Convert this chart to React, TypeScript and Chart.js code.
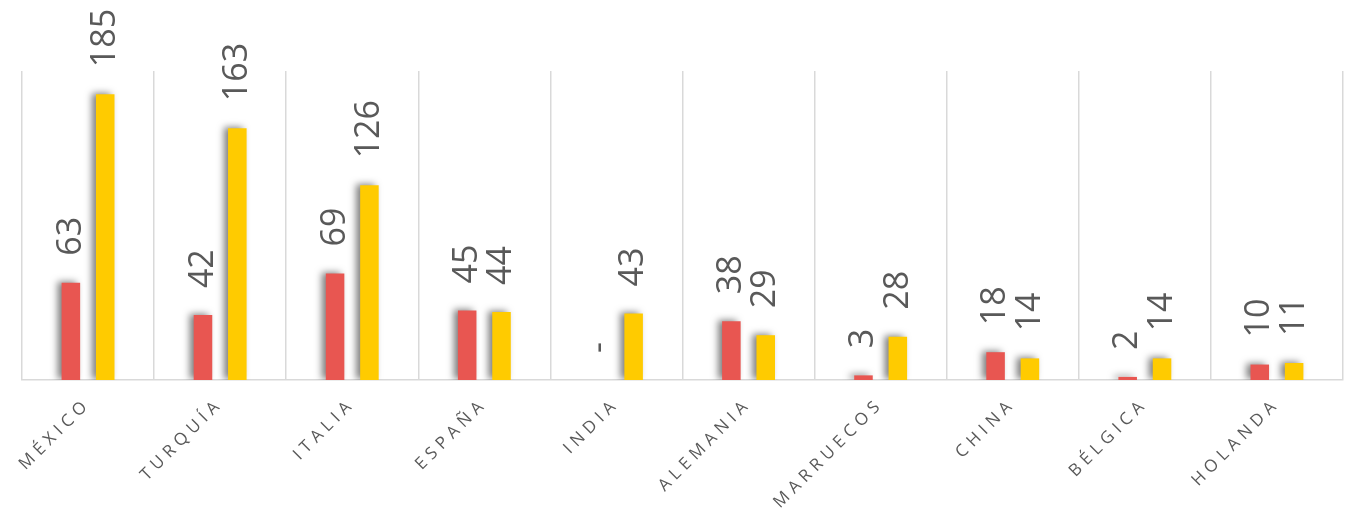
import { useEffect, useRef } from 'react';
import { Chart, registerables } from 'chart.js';

Chart.register(...registerables);

const categories = ['MÉXICO', 'TURQUÍA', 'ITALIA', 'ESPAÑA', 'INDIA', 'ALEMANIA', 'MARRUECOS', 'CHINA', 'BÉLGICA', 'HOLANDA'];
const seriesRed = [63, 42, 69, 45, 0, 38, 3, 18, 2, 10];
const seriesYellow = [185, 163, 126, 44, 43, 29, 28, 14, 14, 11];
const yMax = 200;

const RED = '#E85651';
const YELLOW = '#FFCB00';
const TEXT = '#595959';
const GRID = '#D9D9D9';

const labelPlugin = {
  id: 'shadowAndLabels',
  beforeDraw(chart: any) {
    chart.ctx.letterSpacing = '5px';
  },
  beforeDatasetsDraw(chart: any) {
    const ctx = chart.ctx;
    ctx.letterSpacing = '0px';
    ctx.save();
    ctx.shadowColor = 'rgba(0,0,0,0.5)';
    ctx.shadowBlur = 7;
    ctx.shadowOffsetX = -4;
    ctx.shadowOffsetY = -1;
  },
  afterDatasetsDraw(chart: any) {
    const ctx = chart.ctx;
    ctx.restore();
    ctx.save();
    ctx.letterSpacing = '0px';
    ctx.font = '34px "Open Sans"';
    ctx.fillStyle = TEXT;
    ctx.textAlign = 'left';
    ctx.textBaseline = 'middle';
    chart.data.datasets.forEach((ds: any, i: number) => {
      const meta = chart.getDatasetMeta(i);
      meta.data.forEach((bar: any, j: number) => {
        const v = ds.data[j];
        const txt = v === 0 ? '-' : String(v);
        ctx.save();
        ctx.translate(bar.x, bar.y - 27);
        ctx.rotate(-Math.PI / 2);
        ctx.fillText(txt, 0, 0);
        ctx.restore();
      });
    });
    ctx.restore();
  },
};

export default function App() {
  const ref = useRef<HTMLCanvasElement>(null);
  useEffect(() => {
    if (!ref.current) return;
    const chart = new Chart(ref.current, {
      type: 'bar',
      data: {
        labels: categories,
        datasets: [
          { label: 'Serie 1', data: seriesRed, backgroundColor: RED, categoryPercentage: 0.52, barPercentage: 0.54 },
          { label: 'Serie 2', data: seriesYellow, backgroundColor: YELLOW, categoryPercentage: 0.52, barPercentage: 0.54 },
        ],
      },
      options: {
        animation: false,
        responsive: true,
        maintainAspectRatio: false,
        layout: { padding: { left: 22, right: 7, top: 71, bottom: 0 } },
        plugins: { legend: { display: false }, tooltip: { enabled: false } },
        scales: {
          x: {
            offset: true,
            grid: { display: true, offset: true, color: GRID, lineWidth: 1.5, drawTicks: false },
            border: { display: true, color: GRID, width: 1.5 },
            ticks: {
              color: TEXT,
              font: { family: '"Open Sans"', size: 17 },
              minRotation: 45,
              maxRotation: 45,
              autoSkip: false,
              padding: 14,
            },
            afterFit: (s: any) => {
              s.height = 139;
            },
          },
          y: { display: false, min: 0, max: yMax },
        },
      },
      plugins: [labelPlugin],
    });
    return () => chart.destroy();
  }, []);
  return (
    <div style={{ position: 'absolute', left: 0, top: 0, width: 1350, height: 519, background: '#fff' }}>
      <canvas ref={ref} />
    </div>
  );
}
